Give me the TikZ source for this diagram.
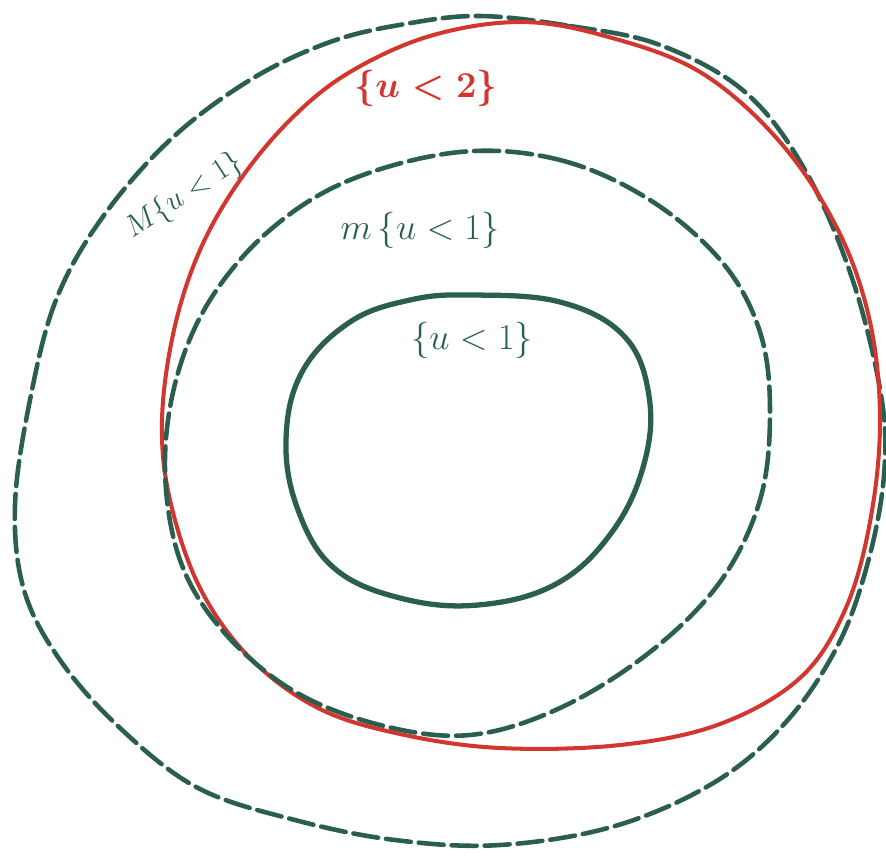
\documentclass[tikz,border=0pt]{standalone}
\usepackage{amsmath,amssymb}
\usetikzlibrary{positioning,calc}
\usepackage{xcolor}
\definecolor{inkgreen}{HTML}{2A5E4E}
\definecolor{inkred}{HTML}{D2362F}

\begin{document}
\begin{tikzpicture}[x=0.02cm, y=-0.02cm,
  level/.style={line width=2.6pt, inkgreen, line cap=round, line join=round},
  hull/.style={level, dash pattern=on 0.5cm off 0.16cm},
  redlevel/.style={line width=2.3pt, inkred, line cap=round},
  lab/.style={inkgreen, font=\fontsize{21}{25}\selectfont, inner sep=0pt}]
\useasboundingbox (0,0) rectangle (886,856);
% ---------- outer dashed hull M{u<1} ----------
\draw[hull] plot[smooth cycle, tension=0.6] coordinates {
  (480,16) (570,26) (660,45) (745,92) (805,170) (852,278) (881,395)
  (884,475) (868,562) (838,645) (786,722) (715,782) (615,826) (500,845)
  (395,840) (295,820) (198,788) (120,728) (60,660) (24,590) (15,505)
  (30,400) (56,300) (102,218) (170,140) (250,80) (330,42) (405,24)};
% ---------- red curve {u<2} ----------
\draw[redlevel] plot[smooth cycle, tension=0.6] coordinates {
  (520,22) (605,36) (700,72) (780,142) (838,230) (870,322) (880,422)
  (870,522) (845,610) (800,678) (720,724) (620,745) (500,748) (400,734)
  (318,708) (250,658) (200,588) (170,500) (162,420) (174,330) (200,250)
  (240,180) (292,118) (350,72) (430,36)};
% ---------- middle dashed hull m{u<1} ----------
\draw[hull] plot[smooth cycle, tension=0.6] coordinates {
  (460,152) (560,160) (650,200) (722,262) (760,332) (770,412) (760,500)
  (720,582) (650,652) (560,708) (470,735) (380,725) (292,690) (222,630)
  (180,560) (165,470) (176,380) (210,300) (270,230) (350,180)};
% ---------- inner solid {u<1} ----------
\draw[level, line width=3pt] plot[smooth cycle, tension=0.65] coordinates {
  (470,295) (560,302) (624,336) (649,396) (644,464) (612,532) (556,584)
  (478,605) (400,598) (334,568) (298,510) (286,440) (302,372) (350,322)
  (410,300)};
% ---------- labels ----------
\node[lab, rotate=33, font=\fontsize{19}{23}\selectfont] (outerlab) at (184,196) {$M\{u<1\}$};
\node[lab, inkred, font=\fontsize{20}{24}\selectfont\boldmath] (redlab) at (426,88) {$\{u<2\}$};
\node[lab] (midlab) at (420,230) {$m\,\{u<1\}$};
\node[lab] (innerlab) at (472,340) {$\{u<1\}$};
\end{tikzpicture}
\end{document}
